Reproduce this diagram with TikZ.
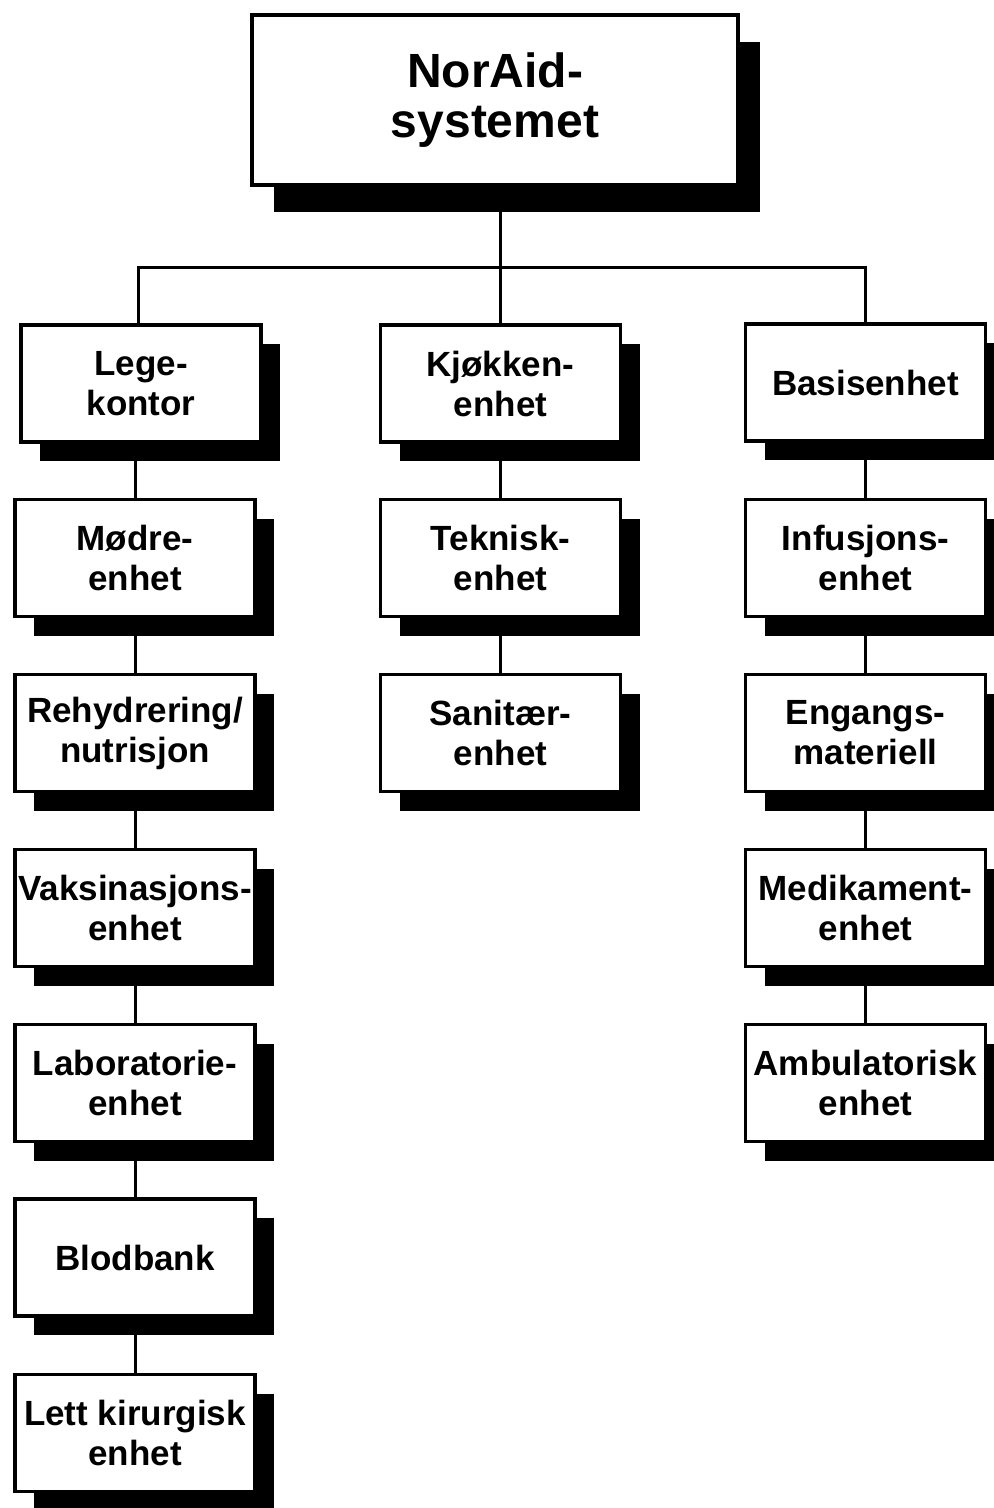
\documentclass[tikz,border=0pt]{standalone}
\usepackage{fontspec}
\setmainfont{Liberation Sans}
\usetikzlibrary{shadows}
\begin{document}
\begin{tikzpicture}[x=0.5pt,y=-0.5pt,
  unitbox/.style={draw=black, line width=1.8pt, fill=white,
    minimum width=120pt, minimum height=58.5pt, inner sep=0pt, align=center,
    font=\fontsize{17.5pt}{20pt}\selectfont\bfseries,
    drop shadow={shadow xshift=9.5pt, shadow yshift=-9.5pt, fill=black, opacity=1}},
  topbox/.style={draw=black, line width=1.8pt, fill=white,
    minimum width=243pt, minimum height=85pt, inner sep=0pt, align=center,
    font=\fontsize{24pt}{25pt}\selectfont\bfseries,
    drop shadow={shadow xshift=11pt, shadow yshift=-13.5pt, fill=black, opacity=1}},
  link/.style={draw=black, line width=1.5pt}]
\useasboundingbox[fill=white] (0,0) rectangle (994,1508);
% top
\node[topbox] (top) at (495,100) {NorAid-\\systemet};
% left column
\node[unitbox] (lege) at (141,383.5) {Lege-\\kontor};
\node[unitbox] (modre) at (135,558) {Mødre-\\enhet};
\node[unitbox] (rehyd) at (135,733) {Rehydrering/\\nutrisjon};
\node[unitbox] (vaks) at (135,908) {Vaksinasjons-\\enhet};
\node[unitbox] (lab) at (135,1083) {Laboratorie-\\enhet};
\node[unitbox] (blod) at (135,1257.5) {Blodbank};
\node[unitbox] (kir) at (135,1433) {Lett kirurgisk\\enhet};
% middle column
\node[unitbox] (kjokken) at (500.5,383.5) {Kjøkken-\\enhet};
\node[unitbox] (tekn) at (500.5,558) {Teknisk-\\enhet};
\node[unitbox] (sanit) at (500.5,733) {Sanitær-\\enhet};
% right column
\node[unitbox] (basis) at (865.5,382.5) {Basisenhet};
\node[unitbox] (infus) at (865.5,558) {Infusjons-\\enhet};
\node[unitbox] (engang) at (865.5,733) {Engangs-\\materiell};
\node[unitbox] (medik) at (865.5,908) {Medikament-\\enhet};
\node[unitbox] (ambul) at (865.5,1083) {Ambulatorisk\\enhet};
% connectors
\coordinate (bar) at (501,268);
\draw[link] (kjokken.north |- top.south) -- (kjokken.north);
\draw[link] (lege.north -| 138,0) |- (bar) -| (basis.north);
\draw[link] (modre.north |- lege.south) -- (modre.north);
\draw[link] (modre.south) -- (rehyd.north);
\draw[link] (rehyd.south) -- (vaks.north);
\draw[link] (vaks.south) -- (lab.north);
\draw[link] (lab.south) -- (blod.north);
\draw[link] (blod.south) -- (kir.north);
\draw[link] (kjokken.south) -- (tekn.north);
\draw[link] (tekn.south) -- (sanit.north);
\draw[link] (basis.south) -- (infus.north);
\draw[link] (infus.south) -- (engang.north);
\draw[link] (engang.south) -- (medik.north);
\draw[link] (medik.south) -- (ambul.north);
\end{tikzpicture}
\end{document}
